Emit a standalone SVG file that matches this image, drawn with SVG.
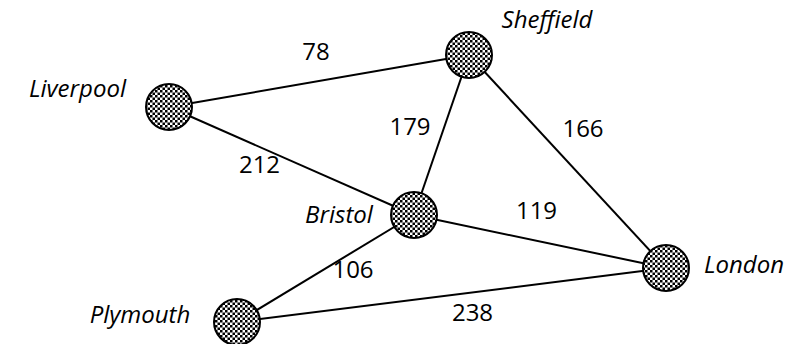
<svg xmlns="http://www.w3.org/2000/svg" width="792" height="344" viewBox="0 0 792 344">
<defs>
<pattern id="chk" patternUnits="userSpaceOnUse" width="5" height="5">
<rect width="5" height="5" fill="#fff"/>
<rect x="0" y="0" width="2.5" height="2.5" fill="#000"/>
<rect x="2.5" y="2.5" width="2.5" height="2.5" fill="#000"/>
</pattern>
</defs>
<style>
.edge{stroke:#000;stroke-width:2;fill:none}
.node{fill:url(#chk);stroke:#000;stroke-width:2}
.lbl{font-family:"Open Sans","Noto Sans",sans-serif;font-size:24px;font-style:italic;fill:#000;text-anchor:middle}
.w{font-family:"Open Sans","Noto Sans",sans-serif;font-size:24px;fill:#000;text-anchor:middle}
</style>
<rect width="792" height="344" fill="#fff"/>
<g id="connectors">
<line class="edge" x1="169" y1="107" x2="469" y2="55"/>
<line class="edge" x1="169" y1="107" x2="414" y2="215"/>
<line class="edge" x1="469" y1="55" x2="414" y2="215"/>
<line class="edge" x1="469" y1="55" x2="666" y2="268"/>
<line class="edge" x1="414" y1="215" x2="666" y2="268"/>
<line class="edge" x1="414" y1="215" x2="237" y2="322"/>
<line class="edge" x1="237" y1="322" x2="666" y2="268"/>
</g>
<g id="weights">
<text class="w" x="316" y="60">78</text>
<text class="w" x="410" y="135">179</text>
<text class="w" x="583" y="137">166</text>
<text class="w" x="259.5" y="173">212</text>
<text class="w" x="536.5" y="219">119</text>
<text class="w" x="353" y="278">106</text>
<text class="w" x="472.5" y="321">238</text>
</g>
<g id="liverpool">
<circle class="node" cx="169" cy="107" r="23"/>
<text class="lbl" x="77.5" y="97">Liverpool</text>
</g>
<g id="sheffield">
<circle class="node" cx="469" cy="55" r="23"/>
<text class="lbl" x="547" y="28">Sheffield</text>
</g>
<g id="bristol">
<circle class="node" cx="414" cy="215" r="23"/>
<text class="lbl" x="339" y="223">Bristol</text>
</g>
<g id="london">
<circle class="node" cx="666" cy="268" r="23"/>
<text class="lbl" x="744" y="273">London</text>
</g>
<g id="plymouth">
<circle class="node" cx="237" cy="322" r="23"/>
<text class="lbl" x="140" y="323">Plymouth</text>
</g>
</svg>
